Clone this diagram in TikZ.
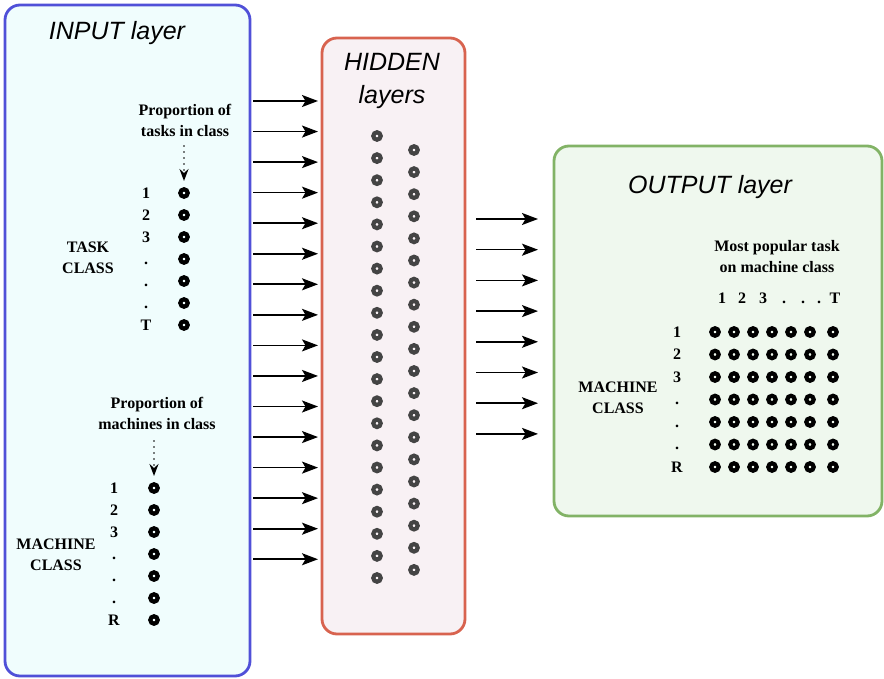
\documentclass[tikz,border=0pt]{standalone}
\usepackage{fontspec}
\setmainfont{Liberation Serif}
\newfontfamily\titlefont{Liberation Sans}
\usetikzlibrary{arrows.meta}
\definecolor{inblue}{HTML}{5050D8}
\definecolor{infill}{HTML}{F0FDFD}
\definecolor{hidred}{HTML}{D8634F}
\definecolor{hidfill}{HTML}{F8F1F4}
\definecolor{outgreen}{HTML}{82B366}
\definecolor{outfill}{HTML}{EFF8EE}
\definecolor{hidgray}{HTML}{444444}
\begin{document}
\begin{tikzpicture}[x=1pt,y=-1pt,
  dot/.style={circle,draw=black,line width=4.2pt,minimum size=7.4pt,inner sep=0pt},
  hdot/.style={dot,draw=hidgray},
  lbl/.style={font=\bfseries\fontsize{16}{21}\selectfont,align=center,inner sep=0pt},
  ch/.style={lbl,text height=10.5pt,text depth=0pt},
  ttl/.style={font=\titlefont\itshape\fontsize{25}{33}\selectfont,align=center,inner sep=0pt},
  conn/.style={line width=1.6pt,-{Stealth[length=16pt,width=12pt,inset=3.5pt]}},
  dotarrow/.style={line width=1.9pt,line cap=round,dash pattern=on 0pt off 6pt,
    -{Stealth[length=12pt,width=9pt,inset=4pt,line cap=butt,sep=0pt]}},
  layerbox/.style={rounded corners=15pt,line width=2.8pt}]
\useasboundingbox (0,0) rectangle (884,679);
% boxes
\draw[layerbox,draw=inblue,fill=infill] (5,5) rectangle (250,676);
\draw[layerbox,draw=hidred,fill=hidfill] (322,38) rectangle (465,634);
\draw[layerbox,draw=outgreen,fill=outfill] (554,146) rectangle (882,516);
% titles
\node[ttl] (tin) at (117,33) {INPUT layer};
\node[ttl] (thid) at (392,81) {HIDDEN\\layers};
\node[ttl] (tout) at (710,187) {OUTPUT layer};
% input: tasks
\node[lbl] (ptask) at (185,120) {Proportion of\\tasks in class};
\coordinate (pta) at (184,146);
\coordinate (ptb) at (184,181);
\draw[dotarrow] (pta) -- (ptb);
\node[lbl] (taskcl) at (88,258) {TASK\\CLASS};
\foreach \t [count=\i from 0] in {1,2,3,.,.,.,T} {
  \pgfmathsetmacro\yy{193+22*\i}
  \node[dot] (td\i) at (184,\yy) {};
  \node[ch] (tl\i) at (146,\yy) {\t};
}
% input: machines
\node[lbl] (pmach) at (157,413) {Proportion of\\machines in class};
\coordinate (pma) at (154,441);
\coordinate (pmb) at (154,476);
\draw[dotarrow] (pma) -- (pmb);
\node[lbl] (machcl) at (56,555) {MACHINE\\CLASS};
\foreach \t [count=\i from 0] in {1,2,3,.,.,.,R} {
  \pgfmathsetmacro\yy{488+22*\i}
  \node[dot] (md\i) at (154,\yy) {};
  \node[ch] (ml\i) at (114,\yy) {\t};
}
% input -> hidden arrows
\foreach \i in {0,...,15} {
  \pgfmathsetmacro\yy{101+30.55*\i}
  \coordinate (ia\i) at (253,\yy);
  \coordinate (ib\i) at (318,\yy);
  \draw[conn] (ia\i) -- (ib\i);
}
% hidden neurons
\foreach \i in {0,...,20} {
  \pgfmathsetmacro\yy{136+22.1*\i}
  \node[hdot] (ha\i) at (377,\yy) {};
}
\foreach \i in {0,...,19} {
  \pgfmathsetmacro\yy{150+22.1*\i}
  \node[hdot] (hb\i) at (414,\yy) {};
}
% hidden -> output arrows
\foreach \i in {0,...,7} {
  \pgfmathsetmacro\yy{219+30.7*\i}
  \coordinate (oa\i) at (476,\yy);
  \coordinate (ob\i) at (538,\yy);
  \draw[conn] (oa\i) -- (ob\i);
}
% output
\node[lbl] (mpt) at (777,257) {Most popular task\\on machine class};
\foreach \t/\x [count=\j from 0] in {1/722,2/742,3/763,./784,./803,./819,T/835} {
  \node[ch] (cl\j) at (\x,298) {\t};
}
\node[lbl] (omach) at (618,398) {MACHINE\\CLASS};
\foreach \t [count=\i from 0] in {1,2,3,.,.,.,R} {
  \pgfmathsetmacro\yy{332+22.5*\i}
  \node[ch] (rl\i) at (677,\yy) {\t};
  \foreach \x [count=\j from 0] in {715,734,753,772,791,810,833} {
    \node[dot] (g\i-\j) at (\x,\yy) {};
  }
}
\end{tikzpicture}
\end{document}
